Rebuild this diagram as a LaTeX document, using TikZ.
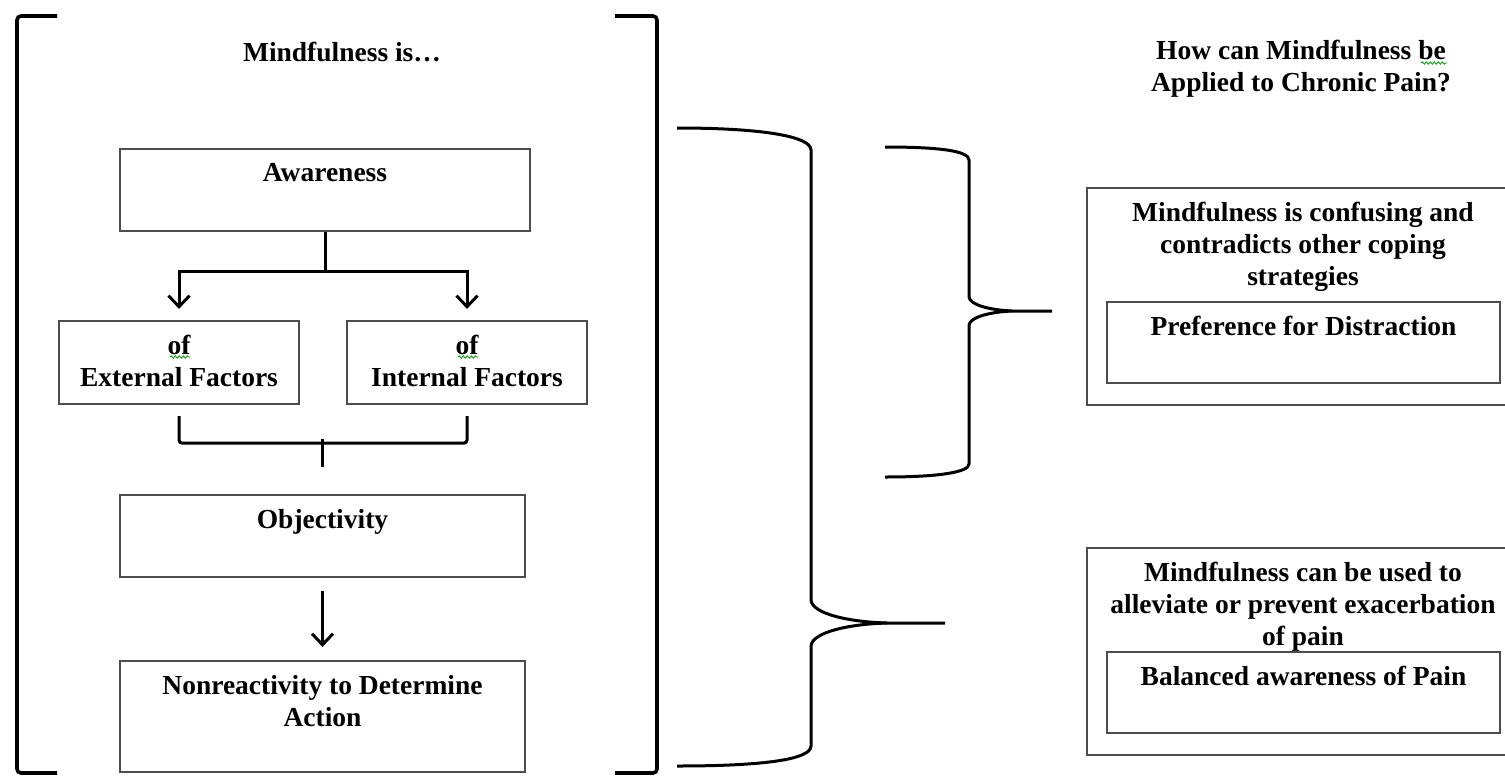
\documentclass[tikz,border=0pt]{standalone}
\usepackage{fontspec}
\setmainfont{Liberation Serif}
\usetikzlibrary{positioning}
\usetikzlibrary{arrows.meta}
\usetikzlibrary{decorations.pathmorphing}

\begin{document}
\begin{tikzpicture}[x=1pt, y=-1pt, every node/.style={font=\fontsize{27.5}{32}\selectfont\bfseries}]
	\tikzstyle{boxnode}=[draw=black!70, line width=2.2pt, inner sep=0pt, fill=none]
	\tikzstyle{textnode}=[inner sep=0pt, align=center, text=black]
	\tikzstyle{bracket}=[line width=3.6pt, black, rounded corners=4pt]
	\tikzstyle{conn}=[line width=3pt, black]
	\tikzstyle{arrowline}=[conn, -{Straight Barb[length=11pt, width=21pt]}]
	\tikzstyle{squiggle}=[green!60!black, line width=0.8pt, decorate, decoration={snake, amplitude=1.2pt, segment length=4pt}]

	\clip (0,0) rectangle (1505,777);

	% left column
	\draw [bracket] (57,16) -- (17,16) -- (17,773) -- (57,773);
	\draw [bracket] (615,16) -- (657,16) -- (657,773) -- (615,773);
	\node (lefttitle) at (342,52) [textnode] {Mindfulness is…};

	\node (aw) at (325,190) [boxnode, minimum width=410pt, minimum height=82pt] {};
	\node (awt) at (aw.north) [below=15pt, textnode] {Awareness};

	\node (ext) at (179,362.5) [boxnode, minimum width=240pt, minimum height=83pt] {};
	\node (extt) at (ext.north) [below=15pt, textnode] {of\\External Factors};
	\node (int) at (467,362.5) [boxnode, minimum width=240pt, minimum height=83pt] {};
	\node (intt) at (int.north) [below=15pt, textnode] {of\\Internal Factors};
	\draw [squiggle] (170,357) -- (190,357);
	\draw [squiggle] (458,357) -- (478,357);

	\node (obj) at (322.5,536) [boxnode, minimum width=405pt, minimum height=82pt] {};
	\node (objt) at (obj.north) [below=15pt, textnode] {Objectivity};

	\node (non) at (322.5,716.5) [boxnode, minimum width=405pt, minimum height=111pt] {};
	\node (nont) at (non.north) [below=15pt, textnode] {Nonreactivity to Determine\\Action};

	\draw [conn] (aw.south) -- ++(0,39) coordinate (split);
	\draw [arrowline] (split) -| ([yshift=11pt]ext.north);
	\draw [arrowline] (split) -| ([yshift=11pt]int.north);
	\draw [conn, rounded corners=3pt] ([yshift=-11pt]ext.south) -- ++(0,27) -| ([yshift=-11pt]int.south);
	\draw [conn] ([yshift=27pt]obj.north) -- ++(0,-28);
	\draw [arrowline] ([yshift=-13pt]obj.south) -- ([yshift=13pt]non.north);

	% braces
	\draw [conn] (677,128) .. controls (760,128) and (811,136) .. (811,150) -- (811,600)
		.. controls (812,614) and (850,622) .. (887,623) -- (945,623);
	\draw [conn] (887,623) .. controls (850,624) and (812,632) .. (811,646) -- (811,746)
		.. controls (811,760) and (760,766) .. (677,766);
	\draw [conn] (885,147) .. controls (940,147) and (969,151) .. (969,160) -- (969,297)
		.. controls (970,305) and (990,310) .. (1012,311) -- (1052,311);
	\draw [conn] (1012,311) .. controls (990,312) and (970,317) .. (969,325) -- (969,464)
		.. controls (969,472) and (940,477) .. (885,477);

	% right column
	\node (righttitle) at (1301,69) [textnode] {How can Mindfulness be\\Applied to Chronic Pain?};
	\draw [squiggle] (1421,63) -- (1447,63);

	\node (out1) at (1303,296.5) [boxnode, minimum width=432pt, minimum height=217pt] {};
	\node (out1t) at (out1.north) [below=15pt, textnode] {Mindfulness is confusing and\\contradicts other coping\\strategies};
	\node (in1) at (1303.5,342.5) [boxnode, minimum width=393pt, minimum height=81pt] {};
	\node (in1t) at (in1.north) [below=15pt, textnode] {Preference for Distraction};

	\node (out2) at (1303,651.5) [boxnode, minimum width=432pt, minimum height=207pt] {};
	\node (out2t) at (out2.north) [below=15pt, textnode] {Mindfulness can be used to\\alleviate or prevent exacerbation\\of pain};
	\node (in2) at (1303.5,692.5) [boxnode, minimum width=393pt, minimum height=81pt] {};
	\node (in2t) at (in2.north) [below=15pt, textnode] {Balanced awareness of Pain};
\end{tikzpicture}
\end{document}
